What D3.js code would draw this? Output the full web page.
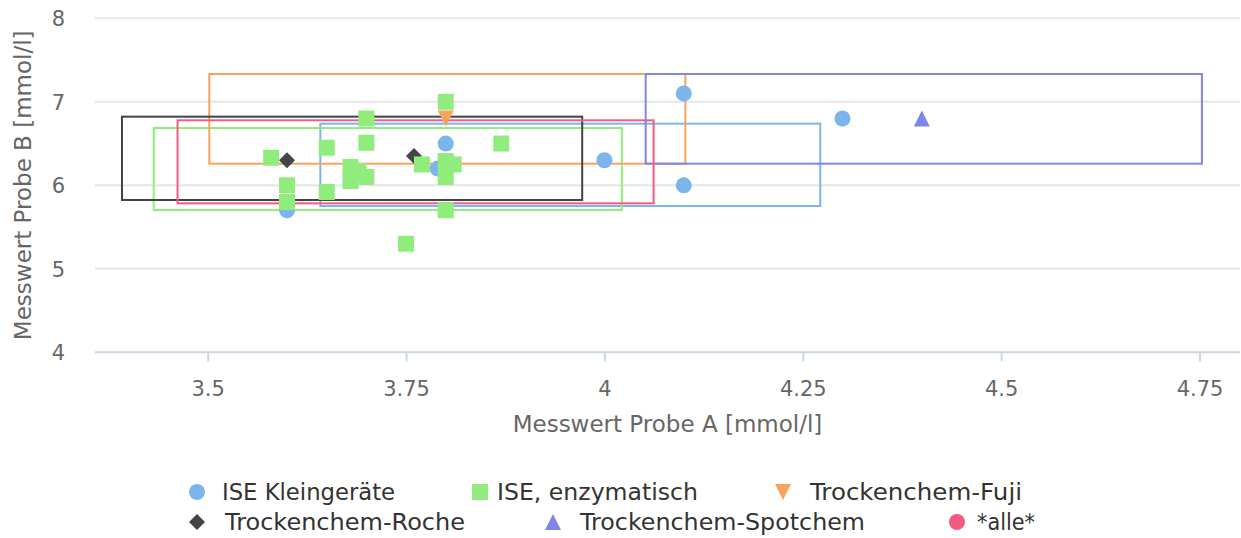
<!DOCTYPE html>
<html>
<head>
<meta charset="utf-8">
<script src="https://cdn.jsdelivr.net/npm/d3@7"></script>
<style>
  html, body { margin: 0; padding: 0; background: #fff; }
  svg { display: block; font-family: "DejaVu Sans", Verdana, sans-serif; }
</style>
</head>
<body>
<svg id="chart" width="1241" height="538"></svg>
<script>
// Series names and colours, in legend order
const seriesNames = ["ISE Kleingeräte", "ISE, enzymatisch", "Trockenchem-Fuji",
                     "Trockenchem-Roche", "Trockenchem-Spotchem", "*alle*"];
const seriesColors = ["#7cb5ec", "#90ed7d", "#f7a35c", "#434348", "#8085e9", "#f15c80"];
const seriesSymbols = ["circle", "square", "triangle-down", "diamond", "triangle", "circle"];

// Measured values: Probe A (x) and Probe B (y), mmol/l
const iseKleinA = [3.60, 3.80, 3.79, 4.00, 4.10, 4.10, 4.30];
const iseKleinB = [5.70, 6.50, 6.20, 6.30, 7.10, 6.00, 6.80];

const iseEnzA = [3.58, 3.65, 3.70, 3.70, 3.60, 3.60, 3.65, 3.68, 3.68, 3.69, 3.70,
                 3.80, 3.80, 3.80, 3.81, 3.77, 3.80, 3.75, 3.87];
const iseEnzB = [6.33, 6.45, 6.51, 6.80, 6.00, 5.80, 5.92, 6.22, 6.05, 6.17, 6.10,
                 7.00, 6.29, 6.10, 6.25, 6.25, 5.70, 5.30, 6.50];

const fujiA = [3.80];
const fujiB = [6.80];

const rocheA = [3.60, 3.76];
const rocheB = [6.30, 6.35];

const spotchemA = [4.40];
const spotchemB = [6.80];

// Acceptance ranges per group (same order as seriesNames)
const rangeAMin = [3.642, 3.432, 3.502, 3.392, 4.052, 3.462];
const rangeAMax = [4.272, 4.022, 4.102, 3.972, 4.753, 4.062];
const rangeBMin = [5.752, 5.704, 6.259, 5.824, 6.259, 5.784];
const rangeBMax = [6.738, 6.686, 7.333, 6.822, 7.333, 6.778];

// Axis ticks
const xTicks = [3.5, 3.75, 4, 4.25, 4.5, 4.75];
const yTicks = [4, 5, 6, 7, 8];

const svg = d3.select("#chart");
const plot = { left: 95, right: 1240, top: 18.3, bottom: 352.3 };

const x = d3.scaleLinear().domain([3.358, 4.801]).range([plot.left, plot.right]);
const y = d3.scaleLinear().domain([4, 8]).range([plot.bottom, plot.top]);

// Marker shapes sized by radius (bounding box 2r)
function symbolPath(type, r) {
  switch (type) {
    case "square": return `M${-r},${-r}H${r}V${r}H${-r}Z`;
    case "diamond": return `M0,${-r}L${r},0L0,${r}L${-r},0Z`;
    case "triangle": return `M0,${-r}L${r},${r}L${-r},${r}Z`;
    case "triangle-down": return `M${-r},${-r}L${r},${-r}L0,${r}Z`;
    default: return d3.arc()({ innerRadius: 0, outerRadius: r, startAngle: 0, endAngle: 2 * Math.PI });
  }
}

// Horizontal grid lines
svg.append("g")
  .selectAll("line")
  .data(yTicks.filter(t => t !== 4))
  .join("line")
  .attr("x1", plot.left).attr("x2", plot.right)
  .attr("y1", d => y(d)).attr("y2", d => y(d))
  .attr("stroke", "#e6e6e6").attr("stroke-width", 2);

// Y axis labels
const yAxis = d3.axisLeft(y).tickValues(yTicks).tickFormat(d3.format("d")).tickSize(0).tickPadding(0);
const gy = svg.append("g").attr("transform", `translate(65,0)`).call(yAxis);
gy.select(".domain").remove();
gy.selectAll("text")
  .attr("fill", "#666666").attr("font-size", 21)
  .attr("font-family", "DejaVu Sans, sans-serif")
  .attr("dy", "0.36em");

// X axis
const xAxis = d3.axisBottom(x).tickValues(xTicks).tickFormat(d => String(d)).tickSize(9).tickPadding(20);
const gx = svg.append("g").attr("transform", `translate(0,${plot.bottom})`).call(xAxis);
gx.select(".domain").attr("d", `M${plot.left},0H${plot.right}`)
  .attr("stroke", "#ccd6eb").attr("stroke-width", 2);
gx.selectAll(".tick line").attr("stroke", "#ccd6eb").attr("stroke-width", 2);
gx.selectAll("text")
  .attr("fill", "#666666").attr("font-size", 21)
  .attr("font-family", "DejaVu Sans, sans-serif")
  .attr("dy", "0.71em");

// Axis titles
svg.append("text")
  .attr("x", (plot.left + plot.right) / 2).attr("y", 432)
  .attr("text-anchor", "middle").attr("fill", "#666666").attr("font-size", 23)
  .text("Messwert Probe A [mmol/l]");
svg.append("text")
  .attr("transform", `translate(31,${(plot.top + plot.bottom) / 2}) rotate(-90)`)
  .attr("text-anchor", "middle").attr("fill", "#666666").attr("font-size", 23)
  .text("Messwert Probe B [mmol/l]");

// Acceptance range rectangles
svg.append("g")
  .selectAll("rect")
  .data(seriesNames.map((n, i) => i))
  .join("rect")
  .attr("x", i => x(rangeAMin[i]))
  .attr("y", i => y(rangeBMax[i]))
  .attr("width", i => x(rangeAMax[i]) - x(rangeAMin[i]))
  .attr("height", i => y(rangeBMin[i]) - y(rangeBMax[i]))
  .attr("fill", "none")
  .attr("stroke", i => seriesColors[i])
  .attr("stroke-width", 2);

// Points, drawn in stacking order
const pointSets = [
  { s: 0, a: iseKleinA, b: iseKleinB },
  { s: 3, a: rocheA, b: rocheB },
  { s: 1, a: iseEnzA, b: iseEnzB },
  { s: 2, a: fujiA, b: fujiB },
  { s: 4, a: spotchemA, b: spotchemB }
];
pointSets.forEach(set => {
  svg.append("g")
    .selectAll("path")
    .data(set.a.map((v, i) => [v, set.b[i]]))
    .join("path")
    .attr("transform", d => `translate(${x(d[0])},${y(d[1])})`)
    .attr("d", symbolPath(seriesSymbols[set.s], 8))
    .attr("fill", seriesColors[set.s]);
});

// Legend (two rows of three)
const legendLayout = [
  { sx: 197, tx: 222, w: 173 },
  { sx: 480, tx: 497, w: 201 },
  { sx: 783, tx: 810, w: 212 },
  { sx: 197, tx: 225, w: 240 },
  { sx: 553, tx: 580, w: 285 },
  { sx: 957, tx: 977, w: 58 }
];
const legend = svg.append("g");
seriesNames.forEach((name, i) => {
  const row = Math.floor(i / 3);
  const cy = row === 0 ? 492 : 522;
  const L = legendLayout[i];
  legend.append("path")
    .attr("transform", `translate(${L.sx},${cy})`)
    .attr("d", symbolPath(seriesSymbols[i], 8))
    .attr("fill", seriesColors[i]);
  legend.append("text")
    .attr("x", L.tx).attr("y", cy + 8)
    .attr("fill", "#333333").attr("font-size", 22.7)
    .attr("textLength", L.w).attr("lengthAdjust", "spacingAndGlyphs")
    .text(name);
});
</script>
</body>
</html>
